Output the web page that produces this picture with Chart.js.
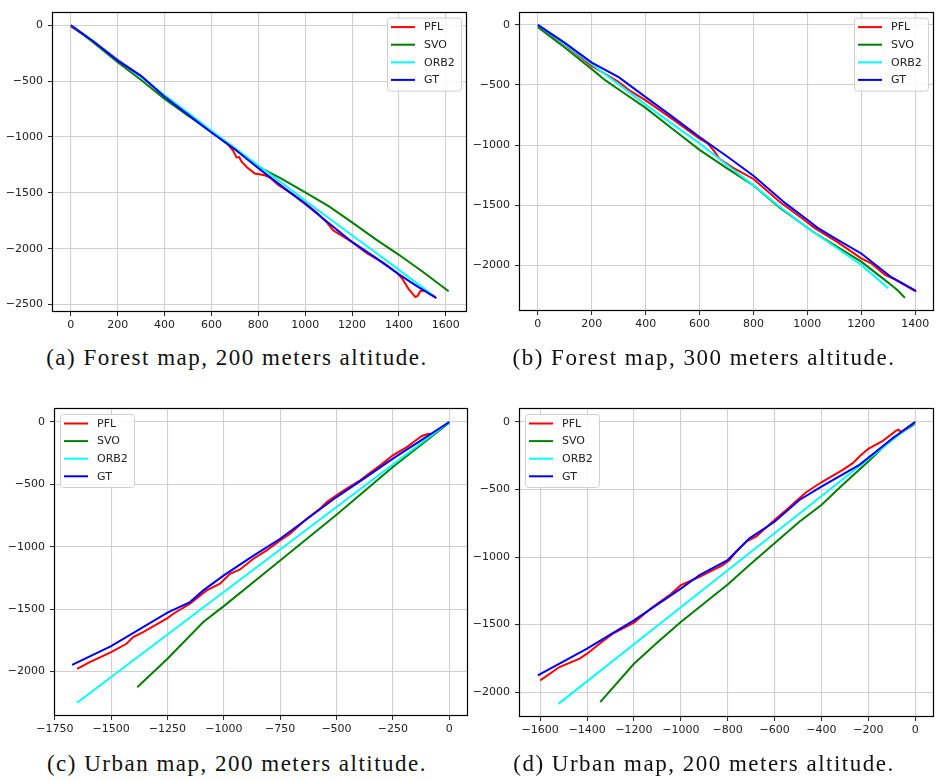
<!DOCTYPE html>
<html>
<head>
<meta charset="utf-8">
<script src="https://cdn.jsdelivr.net/npm/chart.js@4.4.1/dist/chart.umd.min.js"></script>
<style>
  html, body { margin: 0; padding: 0; background: #fff; }
  #page { position: relative; width: 936px; height: 781px; overflow: hidden; }
  canvas { position: absolute; }
  .cap { position: absolute; width: 470px; text-align: center; font-family: "Liberation Serif", serif;
         font-size: 23px; letter-spacing: 1.5px; line-height: 24px; color: #111; white-space: nowrap; }
</style>
</head>
<body>
<div id="page">
  <canvas id="ca" width="470" height="340" style="left:0;top:0"></canvas>
  <canvas id="cb" width="470" height="340" style="left:466px;top:0"></canvas>
  <canvas id="cc" width="470" height="350" style="left:0;top:395px"></canvas>
  <canvas id="cd" width="470" height="350" style="left:466px;top:395px"></canvas>
  <div class="cap" style="left:2px;top:346px">(a) Forest map, 200 meters altitude.</div>
  <div class="cap" style="left:469px;top:346px">(b) Forest map, 300 meters altitude.</div>
  <div class="cap" style="left:2px;top:752px">(c) Urban map, 200 meters altitude.</div>
  <div class="cap" style="left:469px;top:752px">(d) Urban map, 200 meters altitude.</div>
</div>
<script>
// trajectories, [x, y] in meters
const seriesNames = ["PFL", "SVO", "ORB2", "GT"];
const seriesColors = ["#ff0000", "#008000", "#00ffff", "#0000ff"];

// (a) forest, 200 m
const forest200_PFL = [[0,-10],[50,-80],[100,-150],[200,-310],[300,-455],[400,-635],[500,-790],[550,-870],[600,-955],[670,-1067],[693,-1125],[707,-1183],[718,-1180],[728,-1218],[750,-1270],[785,-1328],[828,-1343],[849,-1363],[885,-1430],[949,-1517],[999,-1590],[1049,-1677],[1092,-1765],[1120,-1837],[1149,-1875],[1199,-1939],[1263,-2041],[1334,-2128],[1391,-2215],[1413,-2265],[1441,-2360],[1470,-2433],[1480,-2424],[1491,-2381],[1512,-2375],[1534,-2404],[1555,-2433]];
const forest200_SVO = [[0,0],[100,-160],[200,-331],[300,-490],[400,-660],[500,-810],[600,-955],[700,-1110],[800,-1265],[900,-1375],[1000,-1497],[1100,-1620],[1200,-1765],[1300,-1915],[1400,-2055],[1500,-2205],[1612,-2381]];
const forest200_ORB2 = [[0,0],[100,-150],[200,-312],[300,-462],[400,-628],[500,-785],[600,-945],[700,-1100],[800,-1255],[900,-1410],[1000,-1570],[1100,-1725],[1200,-1880],[1300,-2035],[1400,-2190],[1541,-2410]];
const forest200_GT = [[0,0],[50,-75],[95,-144],[200,-317],[300,-455],[400,-640],[500,-800],[600,-960],[700,-1110],[800,-1280],[900,-1440],[1000,-1600],[1100,-1770],[1200,-1940],[1300,-2080],[1400,-2230],[1480,-2340],[1560,-2442]];

// (b) forest, 300 m
const forest300_PFL = [[0,-5],[100,-165],[200,-341],[300,-475],[338,-542],[400,-628],[500,-784],[600,-945],[630,-985],[655,-1052],[673,-1111],[723,-1187],[800,-1281],[897,-1470],[1000,-1640],[1025,-1685],[1112,-1806],[1200,-1941],[1237,-1981],[1287,-2075],[1324,-2116],[1404,-2217]];
const forest300_SVO = [[0,-19],[102,-193],[200,-368],[251,-462],[300,-537],[400,-690],[500,-865],[600,-1039],[698,-1187],[800,-1334],[900,-1524],[1025,-1726],[1200,-1968],[1300,-2142],[1337,-2210],[1362,-2269]];
const forest300_ORB2 = [[0,0],[100,-160],[200,-328],[300,-495],[400,-663],[500,-825],[600,-985],[700,-1160],[800,-1334],[900,-1516],[1000,-1686],[1100,-1840],[1200,-1995],[1300,-2188]];
const forest300_GT = [[0,0],[100,-150],[200,-314],[300,-435],[400,-601],[500,-765],[600,-932],[700,-1090],[800,-1254],[919,-1484],[1000,-1620],[1037,-1685],[1100,-1770],[1200,-1900],[1312,-2097],[1403,-2210]];

// (c) urban, 200 m
const urbanC_PFL = [[-1651,-1979],[-1595,-1925],[-1500,-1845],[-1432,-1778],[-1402,-1725],[-1358,-1684],[-1250,-1572],[-1224,-1537],[-1150,-1457],[-1076,-1350],[-1017,-1297],[-973,-1217],[-928,-1182],[-869,-1096],[-810,-1029],[-750,-949],[-706,-896],[-632,-775],[-573,-695],[-543,-642],[-500,-588],[-455,-535],[-395,-468],[-366,-428],[-306,-348],[-250,-267],[-188,-201],[-158,-160],[-121,-112],[-92,-94],[-70,-99],[0,0]];
const urbanC_SVO = [[-1384,-2126],[-1250,-1898],[-1091,-1604],[-1000,-1476],[-750,-1110],[-500,-743],[-250,-361],[0,-5]];
const urbanC_ORB2 = [[-1651,-2251],[-1250,-1704],[-1000,-1363],[-750,-1022],[-500,-682],[-250,-341],[0,0]];
const urbanC_GT = [[-1673,-1947],[-1500,-1797],[-1250,-1529],[-1150,-1444],[-1091,-1350],[-1000,-1230],[-875,-1080],[-750,-936],[-625,-770],[-500,-602],[-375,-450],[-250,-294],[-125,-148],[0,0]];

// (d) urban, 200 m
const urbanD_PFL = [[-1600,-1913],[-1518,-1814],[-1432,-1752],[-1400,-1715],[-1347,-1641],[-1290,-1567],[-1200,-1485],[-1120,-1369],[-1048,-1282],[-1000,-1208],[-920,-1146],[-821,-1059],[-792,-1022],[-764,-960],[-721,-886],[-679,-849],[-600,-725],[-550,-651],[-494,-564],[-465,-520],[-400,-446],[-309,-354],[-266,-304],[-238,-255],[-200,-198],[-138,-139],[-81,-64],[-71,-57],[-60,-74],[0,0]];
const urbanD_SVO = [[-1344,-2074],[-1200,-1790],[-1098,-1629],[-1000,-1480],[-800,-1203],[-707,-1059],[-600,-898],[-494,-738],[-400,-614],[-309,-465],[-200,-292],[-95,-119],[-3,-15]];
const urbanD_ORB2 = [[-1522,-2087],[-1000,-1371],[-600,-823],[-200,-274],[0,0]];
const urbanD_GT = [[-1610,-1876],[-1400,-1678],[-1200,-1468],[-1000,-1233],[-920,-1134],[-800,-1022],[-707,-861],[-600,-738],[-494,-577],[-400,-478],[-238,-317],[-200,-265],[-100,-125],[0,0]];

// tick labels
const forest200_xTicks = [0, 200, 400, 600, 800, 1000, 1200, 1400, 1600];
const forest200_yTicks = [0, -500, -1000, -1500, -2000, -2500];
const forest300_xTicks = [0, 200, 400, 600, 800, 1000, 1200, 1400];
const forest300_yTicks = [0, -500, -1000, -1500, -2000];
const urbanC_xTicks = [-1750, -1500, -1250, -1000, -750, -500, -250, 0];
const urbanC_yTicks = [0, -500, -1000, -1500, -2000];
const urbanD_xTicks = [-1600, -1400, -1200, -1000, -800, -600, -400, -200, 0];
const urbanD_yTicks = [0, -500, -1000, -1500, -2000];

const tickFont = { family: "DejaVu Sans", size: 11 };
const fmt = v => v < 0 ? "\u2212" + Math.abs(v) : String(v);

// box round the plot area, like matplotlib spines
const framePlugin = {
  id: "frame",
  afterDatasetsDraw(chart) {
    const a = chart.chartArea, ctx = chart.ctx;
    ctx.save();
    ctx.strokeStyle = "#000";
    ctx.lineWidth = 1.2;
    ctx.strokeRect(Math.round(a.left) + 0.5, Math.round(a.top) + 0.5,
                   Math.round(a.right - a.left) - 1, Math.round(a.bottom - a.top) - 1);
    ctx.restore();
  }
};

// matplotlib style legend box inside the plot area
const boxLegendPlugin = {
  id: "boxLegend",
  afterDraw(chart, args, opts) {
    const a = chart.chartArea, ctx = chart.ctx;
    const w = 74, h = 73;
    const x0 = opts.side === "left" ? a.left + 6 : a.right - 6 - w;
    const y0 = a.top + 6;
    ctx.save();
    ctx.fillStyle = "rgba(255,255,255,0.85)";
    ctx.strokeStyle = "#d0d0d0";
    ctx.lineWidth = 1;
    ctx.beginPath();
    ctx.roundRect(x0 + 0.5, y0 + 0.5, w, h, 3);
    ctx.fill();
    ctx.stroke();
    ctx.font = "11px 'DejaVu Sans'";
    ctx.textBaseline = "middle";
    chart.data.datasets.forEach((ds, i) => {
      const yy = y0 + 9.5 + i * 17.6;
      ctx.strokeStyle = ds.borderColor;
      ctx.lineWidth = 2;
      ctx.beginPath();
      ctx.moveTo(x0 + 4, yy);
      ctx.lineTo(x0 + 28, yy);
      ctx.stroke();
      ctx.fillStyle = "#222";
      ctx.fillText(ds.label, x0 + 37, yy + 0.5);
    });
    ctx.restore();
  }
};

function makePanel(id, series, p) {
  const datasets = series.map((pts, i) => ({
    label: seriesNames[i],
    data: pts,
    borderColor: seriesColors[i],
    borderWidth: 2,
    pointRadius: 0,
    showLine: true,
    fill: false,
    order: series.length - i
  }));
  const grid = { color: "#d0d0d0", lineWidth: 1.1, tickLength: 4, tickColor: "#222", tickWidth: 1 };
  new Chart(document.getElementById(id), {
    type: "scatter",
    data: { datasets: datasets },
    options: {
      responsive: false,
      animation: false,
      events: [],
      layout: { padding: { left: 0, right: p.padRight, top: p.padTop, bottom: 0 } },
      plugins: {
        legend: { display: false },
        tooltip: { enabled: false },
        boxLegend: { side: p.legendSide }
      },
      scales: {
        x: {
          type: "linear", min: p.xMin, max: p.xMax,
          grid: grid, border: { display: false },
          ticks: { font: tickFont, color: "#222", padding: 3, maxRotation: 0, autoSkip: false, callback: fmt },
          afterBuildTicks: s => { s.ticks = p.xTicks.map(v => ({ value: v })); },
          afterFit: s => { s.height = p.xAxisH; }
        },
        y: {
          type: "linear", min: p.yMin, max: p.yMax,
          grid: grid, border: { display: false },
          ticks: { font: tickFont, color: "#222", padding: 5, autoSkip: false, callback: fmt },
          afterBuildTicks: s => { s.ticks = p.yTicks.map(v => ({ value: v })); },
          afterFit: s => { s.width = p.yAxisW; }
        }
      }
    },
    plugins: [framePlugin, boxLegendPlugin]
  });
}

makePanel("ca", [forest200_PFL, forest200_SVO, forest200_ORB2, forest200_GT], {
  xMin: -80.5, xMax: 1690.5, yMin: -2567, yMax: 122,
  xTicks: forest200_xTicks, yTicks: forest200_yTicks,
  yAxisW: 52, xAxisH: 28, padRight: 3, padTop: 3, legendSide: "right"
});
makePanel("cb", [forest300_PFL, forest300_SVO, forest300_ORB2, forest300_GT], {
  xMin: -70, xMax: 1470, yMin: -2378, yMax: 110,
  xTicks: forest300_xTicks, yTicks: forest300_yTicks,
  yAxisW: 53, xAxisH: 29, padRight: 2, padTop: 3, legendSide: "right"
});
makePanel("cc", [urbanC_PFL, urbanC_SVO, urbanC_ORB2, urbanC_GT], {
  xMin: -1753.5, xMax: 83.5, yMin: -2357, yMax: 112,
  xTicks: urbanC_xTicks, yTicks: urbanC_yTicks,
  yAxisW: 54, xAxisH: 29, padRight: 2, padTop: 13, legendSide: "left"
});
makePanel("cd", [urbanD_PFL, urbanD_SVO, urbanD_ORB2, urbanD_GT], {
  xMin: -1690.5, xMax: 80.5, yMin: -2184, yMax: 104,
  xTicks: urbanD_xTicks, yTicks: urbanD_yTicks,
  yAxisW: 53, xAxisH: 28, padRight: 2, padTop: 13, legendSide: "left"
});
</script>
</body>
</html>
